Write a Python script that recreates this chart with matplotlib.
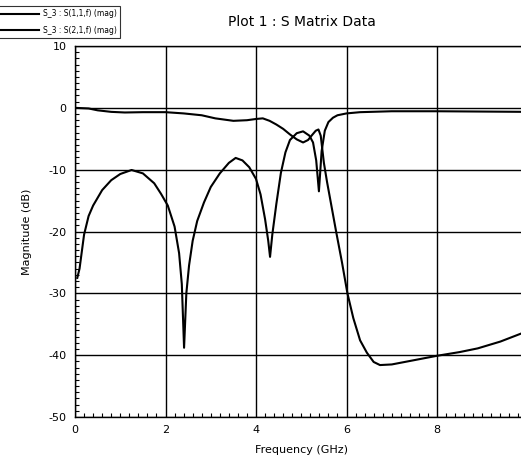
import numpy as np
import matplotlib
matplotlib.use("Agg")
import matplotlib.pyplot as plt
from matplotlib.ticker import MultipleLocator

plt.rcParams['font.family'] = ['Liberation Sans Narrow', 'DejaVu Sans']
plt.rcParams['axes.unicode_minus'] = False

# S(1,1) magnitude
freq_s11 = [0.05, 0.1, 0.2, 0.3, 0.4, 0.6, 0.8, 1.0, 1.25, 1.5, 1.75, 1.9, 2.05,
            2.2, 2.3, 2.36, 2.41, 2.46, 2.52, 2.6, 2.7, 2.85, 3.0, 3.2, 3.4, 3.55,
            3.7, 3.85, 4.0, 4.1, 4.2, 4.27, 4.31, 4.36, 4.45, 4.55, 4.65, 4.75,
            4.9, 5.04, 5.18, 5.26, 5.33, 5.39, 5.45, 5.52, 5.6, 5.7, 5.8, 6.0,
            6.3, 7.0, 8.0, 9.0, 10.0]
mag_s11 = [-27.5, -26.0, -20.5, -17.5, -15.8, -13.3, -11.7, -10.7, -10.05, -10.6,
           -12.2, -13.9, -15.8, -19.2, -23.5, -28.5, -38.8, -30.0, -25.5, -21.5,
           -18.3, -15.3, -12.8, -10.6, -8.9, -8.1, -8.5, -9.6, -11.5, -14.0,
           -18.0, -21.5, -24.1, -20.5, -15.5, -10.5, -7.2, -5.2, -4.1, -3.8,
           -4.5, -5.6, -8.5, -13.5, -7.0, -3.7, -2.3, -1.6, -1.2, -0.9, -0.7,
           -0.55, -0.55, -0.6, -0.65]

# S(2,1) magnitude
freq_s21 = [0.0, 0.3, 0.5, 0.8, 1.1, 1.5, 2.0, 2.4, 2.8, 3.1, 3.5, 3.8, 4.0, 4.15,
            4.3, 4.45, 4.6, 4.75, 4.9, 5.04, 5.15, 5.25, 5.32, 5.38, 5.43, 5.5,
            5.57, 5.64, 5.77, 5.9, 6.02, 6.15, 6.3, 6.45, 6.6, 6.74, 7.0, 7.5,
            8.0, 8.5, 8.9, 9.4, 9.86, 10.0]
mag_s21 = [0.0, -0.1, -0.4, -0.65, -0.75, -0.7, -0.7, -0.9, -1.2, -1.7, -2.1,
           -2.0, -1.8, -1.7, -2.1, -2.7, -3.4, -4.3, -5.1, -5.6, -5.2, -4.3,
           -3.7, -3.5, -4.5, -8.9, -12.0, -14.8, -20.0, -25.0, -30.0, -34.0,
           -37.6, -39.6, -41.1, -41.6, -41.5, -40.8, -40.1, -39.5, -38.9,
           -37.8, -36.5, -36.2]

fig = plt.figure(figsize=(5.21, 4.62), dpi=100)
# the right edge of the plot runs just past the picture, as in the scan
ax = fig.add_axes([0.144, 0.0974, 0.8685, 0.803])

l1, = ax.plot(freq_s11, mag_s11, color='black', lw=1.5)
l2, = ax.plot(freq_s21, mag_s21, color='black', lw=1.5)

ax.set_xlim(0, 10)
ax.set_ylim(-50, 10)
ax.xaxis.set_major_locator(MultipleLocator(2))
ax.xaxis.set_minor_locator(MultipleLocator(0.2))
ax.yaxis.set_major_locator(MultipleLocator(10))
ax.yaxis.set_minor_locator(MultipleLocator(1))
ax.tick_params(which='both', direction='in', top=False, right=False, labelsize=8)
ax.tick_params(which='major', length=0, pad=6)
ax.tick_params(which='minor', length=3, width=0.8)
ax.grid(True, which='major', color='black', lw=1.0)
for s in ax.spines.values():
    s.set_linewidth(1.0)

ax.set_xlabel("Frequency (GHz)", fontsize=8, labelpad=7)
ax.set_ylabel("Magnitude (dB)", fontsize=8, labelpad=12)
fig.text(0.58, 0.953, "Plot 1 : S Matrix Data", fontsize=10, ha='center', va='center')

leg = fig.legend([l1, l2], ["S_3 : S(1,1,f) (mag)", "S_3 : S(2,1,f) (mag)"],
                 loc='lower left', bbox_to_anchor=(-0.008, 0.917), fontsize=5.5,
                 frameon=True, fancybox=False, handlelength=5.2, handletextpad=0.5,
                 borderpad=0.45, labelspacing=1.0, borderaxespad=0)
leg.get_frame().set_edgecolor('black')
leg.get_frame().set_linewidth(0.8)

fig.savefig("out.png", dpi=100)
